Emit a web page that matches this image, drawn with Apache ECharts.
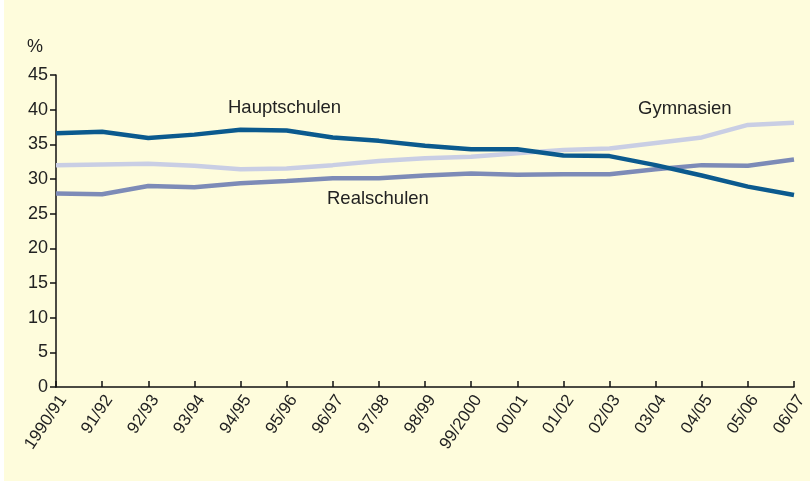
<!DOCTYPE html>
<html>
<head>
<meta charset="utf-8">
<script src="https://cdn.jsdelivr.net/npm/echarts@6/dist/echarts.min.js"></script>
<style>
html,body{margin:0;padding:0;background:#ffffff;}
#c{position:absolute;left:4px;top:0;width:806px;height:481px;background:#FEFCDC;}
</style>
</head>
<body>
<div id="c"></div>
<script>
const categories = ['1990/91','91/92','92/93','93/94','94/95','95/96','96/97','97/98','98/99','99/2000','00/01','01/02','02/03','03/04','04/05','05/06','06/07'];
const hauptschulen = [36.6,36.8,35.9,36.4,37.1,37.0,36.0,35.5,34.8,34.3,34.3,33.4,33.3,32.0,30.5,28.9,27.7];
const gymnasien = [32.0,32.1,32.2,31.9,31.4,31.5,32.0,32.6,33.0,33.2,33.7,34.2,34.4,35.2,36.0,37.8,38.1];
const realschulen = [27.9,27.8,29.0,28.8,29.4,29.7,30.1,30.1,30.5,30.8,30.6,30.7,30.7,31.4,32.0,31.9,32.8];
const yTicks = [0,5,10,15,20,25,30,35,40,45];

const chart = echarts.init(document.getElementById('c'), null, {renderer:'canvas'});
const fontFamily = 'Liberation Sans, Arial, sans-serif';
chart.setOption({
  backgroundColor: '#FEFCDC',
  animation: false,
  grid: {left: 52, right: 16, top: 75, bottom: 94},
  xAxis: {
    type: 'category',
    data: categories,
    boundaryGap: false,
    axisLine: {lineStyle: {color: '#111', width: 1.5}},
    axisTick: {inside: true, length: 6, lineStyle: {color: '#111', width: 1.5}, alignWithLabel: true},
    axisLabel: {rotate: 56, color: '#222', fontSize: 17, fontFamily: fontFamily, margin: 5, interval: 0, verticalAlign: 'top'}
  },
  yAxis: {
    type: 'value',
    min: 0, max: 45, interval: 5,
    axisLine: {show: true, lineStyle: {color: '#111', width: 1.5}},
    axisTick: {show: true, length: 6, lineStyle: {color: '#111', width: 1.5}},
    splitLine: {show: false},
    axisLabel: {color: '#222', fontSize: 18, fontFamily: fontFamily, margin: 8,
      formatter: v => yTicks.includes(v) ? String(v) : ''}
  },
  series: [
    {name: 'Gymnasien', type: 'line', data: gymnasien, symbol: 'none', lineStyle: {color: '#C9CEE4', width: 4.5}},
    {name: 'Realschulen', type: 'line', data: realschulen, symbol: 'none', lineStyle: {color: '#7D8BB7', width: 4.5}},
    {name: 'Hauptschulen', type: 'line', data: hauptschulen, symbol: 'none', lineStyle: {color: '#0B5A8E', width: 4.5}}
  ],
  graphic: [
    {type: 'text', left: 23, top: 38, style: {text: '%', fill: '#222', font: '18px ' + fontFamily}},
    {type: 'text', left: 224, top: 98, style: {text: 'Hauptschulen', fill: '#222', font: '18.5px ' + fontFamily}},
    {type: 'text', left: 634, top: 99, style: {text: 'Gymnasien', fill: '#222', font: '18.5px ' + fontFamily}},
    {type: 'text', left: 323, top: 189, style: {text: 'Realschulen', fill: '#222', font: '18.5px ' + fontFamily}}
  ]
});
</script>
</body>
</html>
